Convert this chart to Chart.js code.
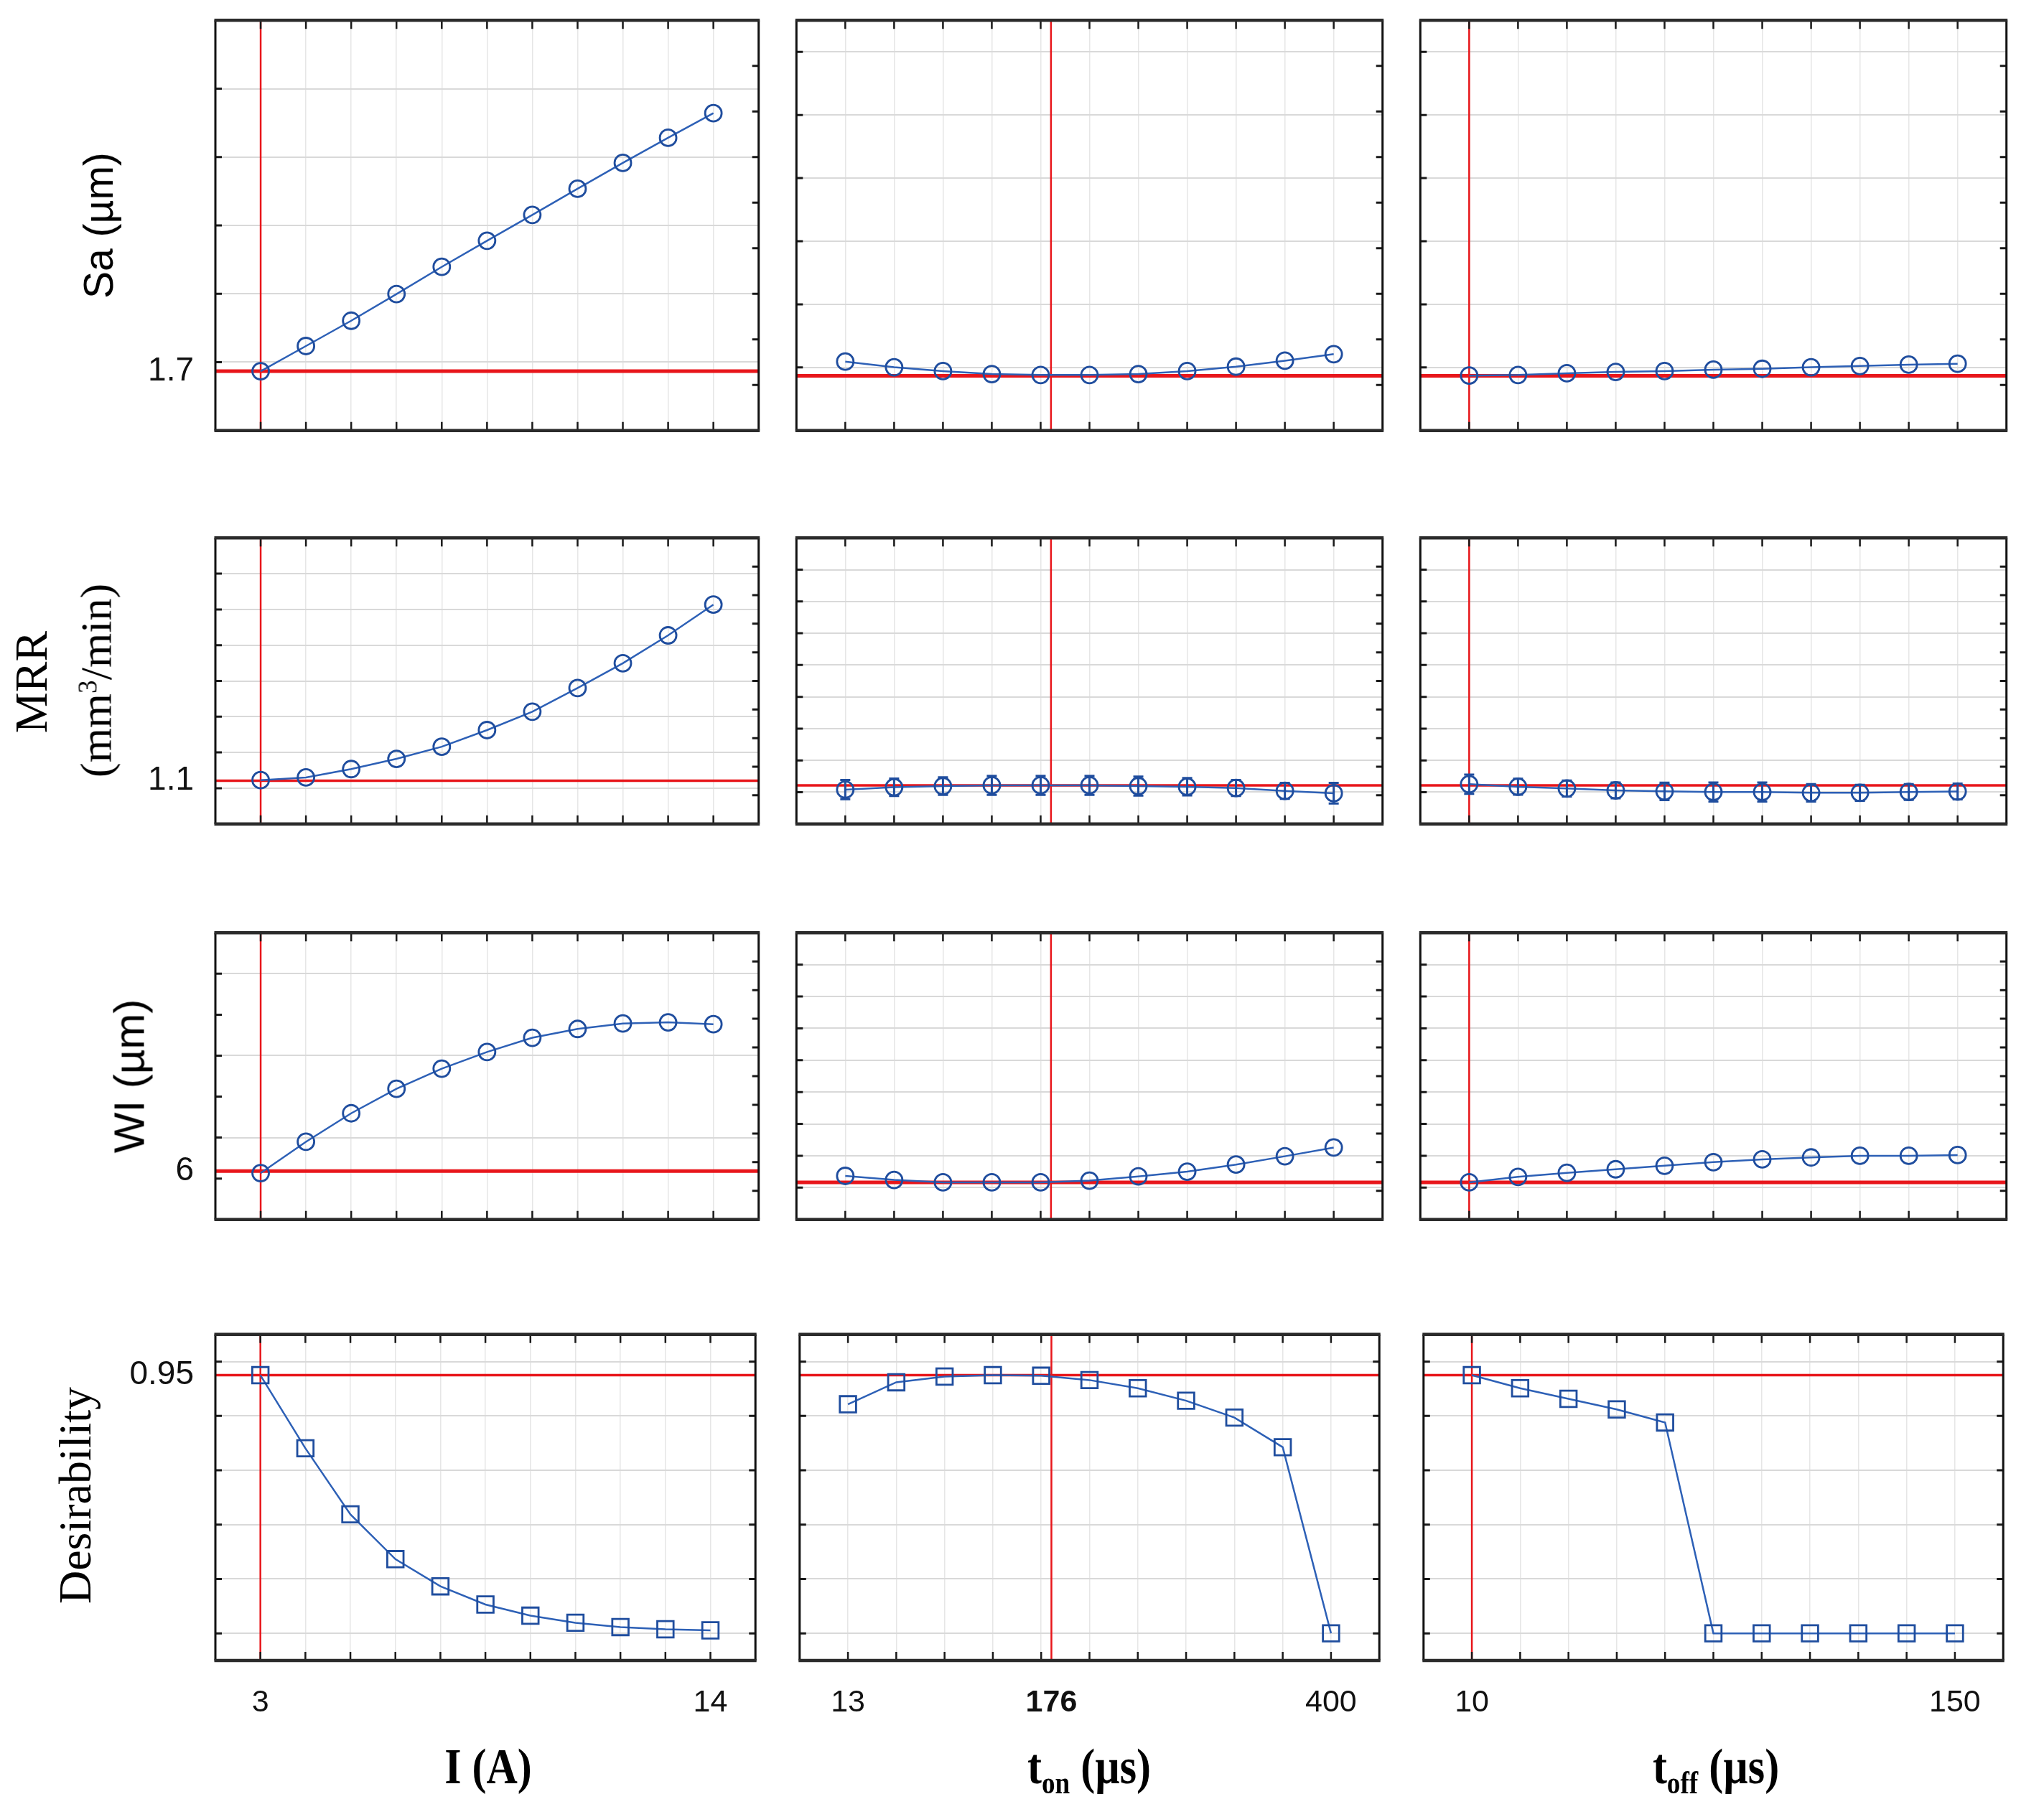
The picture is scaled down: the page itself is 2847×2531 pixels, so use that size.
<!DOCTYPE html>
<html>
<head>
<meta charset="utf-8">
<script src="https://cdn.jsdelivr.net/npm/chart.js@4.4.1/dist/chart.umd.min.js"></script>
<style>
  html, body { margin: 0; padding: 0; background: #fff; }
  #page { position: relative; width: 2847px; height: 2531px; overflow: hidden; }
  #page canvas { position: absolute; }
  .title { position: absolute; white-space: nowrap; line-height: 1; color: #000; }
  .title sub { font-size: 0.62em; vertical-align: -0.32em; line-height: 0; }
  .title sup { font-size: 0.6em; vertical-align: 0.55em; line-height: 0; }
</style>
</head>
<body>
<div id="page"></div>
<script>
// factor levels (x axes)
const I_VALUES = [3, 4.1, 5.2, 6.3, 7.4, 8.5, 9.6, 10.7, 11.8, 12.9, 14];
const TON_VALUES = [13, 51.7, 90.4, 129.1, 167.8, 206.5, 245.2, 283.9, 322.6, 361.3, 400];
const TOFF_VALUES = [10, 24, 38, 52, 66, 80, 94, 108, 122, 136, 150];

// current factor settings and the x tick labels shown under the last row
const CURRENT_SETTING = [3, 176, 10];
const X_LABELS = [[3, 14], [13, 176, 400], [10, 150]];

// predicted response at current settings (horizontal red lines)
const PREDICTED = [1.7, 1.1, 6, 0.95];
const PREDICTED_LABELS = ['1.7', '1.1', '6', '0.95'];

// response profiles
const SA_I = [1.70, 1.884, 2.069, 2.264, 2.463, 2.654, 2.843, 3.034, 3.223, 3.407, 3.587];
const SA_TON = [1.812, 1.767, 1.737, 1.713, 1.706, 1.706, 1.713, 1.737, 1.772, 1.819, 1.871];
const SA_TOFF = [1.701, 1.706, 1.720, 1.730, 1.737, 1.748, 1.755, 1.767, 1.777, 1.788, 1.795];

const MRR_I = [1.103, 1.118, 1.165, 1.222, 1.290, 1.383, 1.486, 1.618, 1.757, 1.913, 2.085];
const MRR_TON = [1.073, 1.088, 1.095, 1.100, 1.100, 1.100, 1.095, 1.091, 1.083, 1.065, 1.050];
const MRR_TOFF = [1.107, 1.091, 1.080, 1.068, 1.062, 1.058, 1.058, 1.053, 1.053, 1.058, 1.061];
const MRR_TON_ERR = [0.06, 0.055, 0.055, 0.06, 0.06, 0.06, 0.06, 0.055, 0.05, 0.05, 0.065];
const MRR_TOFF_ERR = [0.06, 0.05, 0.05, 0.05, 0.055, 0.06, 0.06, 0.055, 0.05, 0.05, 0.05];

const WI_I = [5.95, 6.714, 7.410, 8.007, 8.500, 8.906, 9.254, 9.469, 9.602, 9.631, 9.585];
const WI_TON = [6.201, 6.075, 6.000, 6.000, 6.000, 6.052, 6.186, 6.335, 6.558, 6.818, 7.093];
const WI_TOFF = [6.000, 6.171, 6.298, 6.409, 6.521, 6.632, 6.721, 6.781, 6.833, 6.833, 6.855];

const D_I = [0.950, 0.681, 0.438, 0.273, 0.173, 0.106, 0.065, 0.039, 0.023, 0.015, 0.011];
const D_TON = [0.843, 0.924, 0.945, 0.950, 0.948, 0.932, 0.902, 0.856, 0.794, 0.685, 0.0];
const D_TOFF = [0.950, 0.902, 0.863, 0.824, 0.776, 0, 0, 0, 0, 0, 0];

const X_SERIES = [I_VALUES, TON_VALUES, TOFF_VALUES];
const Y_SERIES = [
    [SA_I, SA_TON, SA_TOFF],
    [MRR_I, MRR_TON, MRR_TOFF],
    [WI_I, WI_TON, WI_TOFF],
    [D_I, D_TON, D_TOFF]
];
const ERRORS = [[null, null, null], [null, MRR_TON_ERR, MRR_TOFF_ERR], [null, null, null], [null, null, null]];

// y axis per panel: [min, max, gridBase, gridStep, tickStep]
const Y_AXES = [
    [[1.266, 4.266, 1.266, 0.5, 0.5], [1.266, 4.516, 1.266, 0.5, 0.5], [1.266, 4.516, 1.266, 0.5, 0.5]],
    [[0.858, 2.458, 0.858, 0.2, 0.2], [0.857, 2.657, 0.857, 0.2, 0.2], [0.857, 2.657, 0.857, 0.2, 0.2]],
    [[4.817, 11.817, 4.817, 2, 1], [4.833, 13.833, 4.833, 1, 1], [4.833, 13.833, 4.833, 1, 1]],
    [[-0.1, 1.1, 0, 0.2, 0.2], [-0.1, 1.1, 0, 0.2, 0.2], [-0.1, 1.1, 0, 0.2, 0.2]]
];
const RIGHT_DIVS = [9, 10, 10, 0];   // 0 = same as grid

// layout (page pixels)
const COL_BOX = [[300, 1059], [1107, 1928], [1976, 2797]];
const ROW_BOX = [[26, 602], [747, 1150], [1297, 1701], [1852, 2313]];
const PAD = 12;
const RED_WIDTH = [5, 3.5, 5, 3.5];

const BLUE = '#2d60b6';
const MARK = '#1f4d9e';
const RED = '#e8161b';

function stepValues(base, step, min, max) {
    const out = [];
    const eps = step * 1e-3;
    let k = Math.ceil((min - base) / step - 1e-6);
    for (let v = base + k * step; v < max - eps; k++, v = base + k * step) {
        if (v > min + eps) out.push(+v.toFixed(6));
    }
    return out;
}

const framePlugin = {
    id: 'frame',
    afterDatasetsDraw(chart, args, o) {
        const {ctx, chartArea: a, scales: {x, y}} = chart;
        ctx.save();
        ctx.lineCap = 'butt';

        if (o.errors) {
            ctx.strokeStyle = MARK;
            ctx.lineWidth = 3;
            o.errors.forEach((e, i) => {
                const px = x.getPixelForValue(o.xs[i]);
                const t = y.getPixelForValue(o.ys[i] + e);
                const b = y.getPixelForValue(o.ys[i] - e);
                ctx.beginPath();
                ctx.moveTo(px, t); ctx.lineTo(px, b);
                ctx.moveTo(px - 7, t); ctx.lineTo(px + 7, t);
                ctx.moveTo(px - 7, b); ctx.lineTo(px + 7, b);
                ctx.stroke();
            });
        }

        ctx.strokeStyle = '#1a1a1a';
        ctx.lineWidth = 2.5;
        ctx.beginPath();
        o.xs.forEach(v => {
            const px = x.getPixelForValue(v);
            ctx.moveTo(px, a.top); ctx.lineTo(px, a.top + 12);
            ctx.moveTo(px, a.bottom); ctx.lineTo(px, a.bottom - 12);
        });
        ctx.stroke();

        ctx.lineWidth = 3;
        ctx.beginPath();
        o.leftTicks.forEach(v => {
            const py = y.getPixelForValue(v);
            ctx.moveTo(a.left, py); ctx.lineTo(a.left + 9, py);
        });
        if (o.rightDiv) {
            for (let k = 1; k < o.rightDiv; k++) {
                const py = a.bottom - (a.bottom - a.top) * k / o.rightDiv;
                ctx.moveTo(a.right, py); ctx.lineTo(a.right - 9, py);
            }
        } else {
            o.leftTicks.forEach(v => {
                const py = y.getPixelForValue(v);
                ctx.moveTo(a.right, py); ctx.lineTo(a.right - 9, py);
            });
        }
        ctx.stroke();

        ctx.strokeStyle = '#111';
        ctx.lineWidth = 3;
        ctx.beginPath();
        ctx.moveTo(a.left, a.top); ctx.lineTo(a.left, a.bottom);
        ctx.moveTo(a.right, a.top); ctx.lineTo(a.right, a.bottom);
        ctx.stroke();
        ctx.strokeStyle = '#2b2b2b';
        ctx.lineWidth = 4.5;
        ctx.beginPath();
        ctx.moveTo(a.left - 1.5, a.top); ctx.lineTo(a.right + 1.5, a.top);
        ctx.moveTo(a.left - 1.5, a.bottom); ctx.lineTo(a.right + 1.5, a.bottom);
        ctx.stroke();
        ctx.restore();
    }
};

const page = document.getElementById('page');

function makePanel(r, c) {
    const xs = X_SERIES[c];
    const ys = Y_SERIES[r][c];
    const step = xs[1] - xs[0];
    const xMin = xs[0] - step;
    const xMax = xs[xs.length - 1] + step;
    const [yMin, yMax, gBase, gStep, tStep] = Y_AXES[r][c];
    const pred = PREDICTED[r];
    const gridVals = stepValues(gBase, gStep, yMin, yMax);
    const tickVals = stepValues(gBase, tStep, yMin, yMax);
    const yTicks = (c === 0 ? gridVals.concat([pred]) : gridVals.slice()).sort((a, b) => a - b);
    const xLabels = r === 3 ? X_LABELS[c] : [];
    const xTicks = xs.concat(xLabels.filter(v => !xs.includes(v))).sort((a, b) => a - b);

    const leftSpace = c === 0 ? 140 : PAD;
    const bottomSpace = r === 3 ? 110 : PAD;
    const [pl, pr] = COL_BOX[c];
    const [pt, pb] = ROW_BOX[r];

    const canvas = document.createElement('canvas');
    canvas.width = leftSpace + (pr - pl) + PAD;
    canvas.height = PAD + (pb - pt) + bottomSpace;
    canvas.style.left = (pl - leftSpace) + 'px';
    canvas.style.top = (pt - PAD) + 'px';
    page.appendChild(canvas);

    const marker = r === 3 ? 'rect' : 'circle';
    const points = xs.map((x, i) => ({x: x, y: ys[i]}));

    new Chart(canvas.getContext('2d'), {
        type: 'line',
        data: {
            datasets: [
                {
                    data: points,
                    borderColor: BLUE,
                    borderWidth: 2.5,
                    pointStyle: marker,
                    pointRadius: marker === 'rect' ? 16 : 11.5,
                    pointBorderWidth: 2.8,
                    pointBorderColor: MARK,
                    pointBackgroundColor: 'rgba(255,255,255,0)',
                    tension: 0,
                    clip: false
                },
                {
                    data: [{x: xMin, y: pred}, {x: xMax, y: pred}],
                    borderColor: RED,
                    borderWidth: RED_WIDTH[r],
                    pointRadius: 0
                },
                {
                    data: [{x: CURRENT_SETTING[c], y: yMin}, {x: CURRENT_SETTING[c], y: yMax}],
                    borderColor: RED,
                    borderWidth: 2.5,
                    pointRadius: 0
                }
            ]
        },
        options: {
            responsive: false,
            animation: false,
            events: [],
            layout: {padding: {top: PAD, right: PAD, left: 0, bottom: 0}},
            plugins: {
                legend: {display: false},
                tooltip: {enabled: false},
                frame: {
                    xs: xs,
                    ys: ys,
                    errors: ERRORS[r][c],
                    leftTicks: tickVals,
                    rightDiv: RIGHT_DIVS[r]
                }
            },
            scales: {
                x: {
                    type: 'linear',
                    min: xMin,
                    max: xMax,
                    afterBuildTicks: s => { s.ticks = xTicks.map(v => ({value: v})); },
                    afterFit: s => { s.height = bottomSpace; s.paddingLeft = 0; s.paddingRight = 0; },
                    border: {display: false},
                    grid: {
                        drawTicks: false,
                        lineWidth: 1.5,
                        color: ctx => (ctx.tick && xs.includes(ctx.tick.value)) ? '#e6e6e6' : 'rgba(0,0,0,0)'
                    },
                    ticks: {
                        display: r === 3,
                        autoSkip: false,
                        maxRotation: 0,
                        padding: 33,
                        color: '#111',
                        font: ctx => ({
                            family: 'Liberation Sans',
                            size: 43,
                            weight: (ctx.tick && ctx.tick.value === 176) ? 'bold' : 'normal'
                        }),
                        callback: v => xLabels.includes(v) ? String(v) : ''
                    }
                },
                y: {
                    type: 'linear',
                    min: yMin,
                    max: yMax,
                    afterBuildTicks: s => { s.ticks = yTicks.map(v => ({value: v})); },
                    afterFit: s => { s.width = leftSpace; s.paddingTop = 0; s.paddingBottom = 0; },
                    border: {display: false},
                    grid: {
                        drawTicks: false,
                        lineWidth: 2,
                        color: ctx => (ctx.tick && gridVals.includes(ctx.tick.value)) ? '#d9d9d9' : 'rgba(0,0,0,0)'
                    },
                    ticks: {
                        display: c === 0,
                        autoSkip: false,
                        padding: 30,
                        color: '#111',
                        font: {family: 'Liberation Sans', size: 46},
                        callback: v => Math.abs(v - pred) < 1e-9 ? PREDICTED_LABELS[r] : ''
                    }
                }
            }
        },
        plugins: [framePlugin]
    });
}

for (let r = 0; r < 4; r++) {
    for (let c = 0; c < 3; c++) makePanel(r, c);
}

// axis titles
const TITLES = [
    {html: 'Sa (µm)', x: 137, y: 314, font: '57px "Liberation Sans"', rotate: true},
    {html: 'MRR', x: 44, y: 950, font: '64px "Liberation Serif"', rotate: true},
    {html: '(mm<sup>3</sup>/min)', x: 134, y: 948, font: '62px "Liberation Serif"', rotate: true},
    {html: 'WI (µm)', x: 180, y: 1499, font: '60px "Liberation Sans"', rotate: true},
    {html: 'Desirability', x: 105, y: 2083, font: '64px "Liberation Serif"', rotate: true},
    {html: 'I (A)', x: 680, y: 2461, font: 'bold 60px "Liberation Serif"'},
    {html: 't<sub>on</sub> (µs)', x: 1517, y: 2461, font: 'bold 60px "Liberation Serif"'},
    {html: 't<sub>off</sub> (µs)', x: 2390, y: 2461, font: 'bold 60px "Liberation Serif"'}
];

TITLES.forEach(t => {
    const d = document.createElement('div');
    d.className = 'title';
    d.innerHTML = t.html;
    d.style.font = t.font;
    d.style.left = t.x + 'px';
    d.style.top = t.y + 'px';
    d.style.transform = t.rotate
        ? 'translate(-50%, -50%) rotate(-90deg)'
        : 'translate(-50%, -50%) scaleY(1.18)';
    page.appendChild(d);
});
</script>
</body>
</html>
